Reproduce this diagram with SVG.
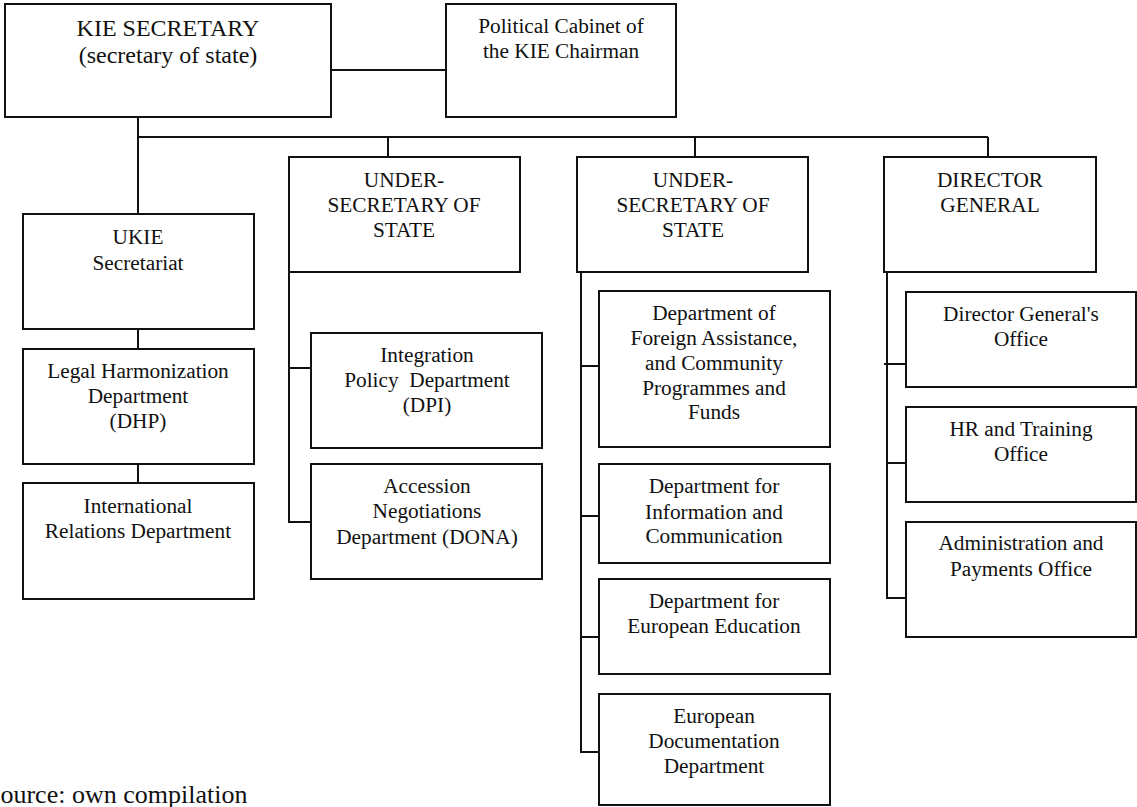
<svg xmlns="http://www.w3.org/2000/svg" width="1137" height="807" viewBox="0 0 1137 807">
<style>
.box{fill:#fff;stroke:#111;stroke-width:2}
.t{font-family:'Liberation Serif','Times New Roman',serif;font-size:21.3px;fill:#111;text-anchor:middle}
.big{font-size:24px}
.src{font-family:'Liberation Serif','Times New Roman',serif;font-size:26px;fill:#111}
.c{fill:none;stroke:#111;stroke-width:2}
</style>
<rect width="1137" height="807" fill="#fff"/>
<g id="connectors">
<path class="c" d="M331,70 H446"/>
<path class="c" d="M138,117 V214"/>
<path class="c" d="M138,137 H988"/>
<path class="c" d="M388,137 V160"/>
<path class="c" d="M695,137 V160"/>
<path class="c" d="M988,137 V160"/>
<path class="c" d="M138,329 V349"/>
<path class="c" d="M138,464 V483"/>
<path class="c" d="M289,272 V522 H311 M289,368 H311"/>
<path class="c" d="M581,272 V752 H599 M581,366 H599 M581,516 H599 M581,637 H599"/>
<path class="c" d="M887,272 V598 H906 M884,364 H906 M887,463 H906"/>
</g>
<g id="kie"><rect class="box" x="5" y="4" width="326" height="113"/>
<text class="t big" x="168" y="36">KIE SECRETARY</text><text class="t big" x="168" y="63">(secretary of state)</text></g>
<g id="political"><rect class="box" x="446" y="4" width="230" height="113"/>
<text class="t" x="561" y="33">Political Cabinet of</text><text class="t" x="561" y="58">the KIE Chairman</text></g>
<g id="ukie"><rect class="box" x="23" y="214" width="231" height="115"/>
<text class="t" x="138" y="244">UKIE</text><text class="t" x="138" y="270">Secretariat</text></g>
<g id="legal"><rect class="box" x="23" y="349" width="231" height="115"/>
<text class="t" x="138" y="378">Legal Harmonization</text><text class="t" x="138" y="403">Department</text><text class="t" x="138" y="428">(DHP)</text></g>
<g id="intl"><rect class="box" x="23" y="483" width="231" height="116"/>
<text class="t" x="138" y="513">International</text><text class="t" x="138" y="538">Relations Department</text></g>
<g id="us1"><rect class="box" x="289" y="157" width="231" height="115"/>
<text class="t" x="404" y="187">UNDER-</text><text class="t" x="404" y="212">SECRETARY OF</text><text class="t" x="404" y="237">STATE</text></g>
<g id="dpi"><rect class="box" x="311" y="333" width="231" height="115"/>
<text class="t" x="427" y="362">Integration</text><text class="t" x="427" y="387" style="white-space:pre">Policy  Department</text><text class="t" x="427" y="412">(DPI)</text></g>
<g id="dona"><rect class="box" x="311" y="464" width="231" height="115"/>
<text class="t" x="427" y="493">Accession</text><text class="t" x="427" y="518">Negotiations</text><text class="t" x="427" y="544">Department (DONA)</text></g>
<g id="us2"><rect class="box" x="577" y="157" width="231" height="115"/>
<text class="t" x="693" y="187">UNDER-</text><text class="t" x="693" y="212">SECRETARY OF</text><text class="t" x="693" y="237">STATE</text></g>
<g id="foreign"><rect class="box" x="599" y="291" width="231" height="156"/>
<text class="t" x="714" y="320">Department of</text><text class="t" x="714" y="345">Foreign Assistance,</text><text class="t" x="714" y="370">and Community</text><text class="t" x="714" y="395">Programmes and</text><text class="t" x="714" y="419">Funds</text></g>
<g id="info"><rect class="box" x="599" y="464" width="231" height="99"/>
<text class="t" x="714" y="493">Department for</text><text class="t" x="714" y="519">Information and</text><text class="t" x="714" y="543">Communication</text></g>
<g id="edu"><rect class="box" x="599" y="579" width="231" height="95"/>
<text class="t" x="714" y="608">Department for</text><text class="t" x="714" y="633">European Education</text></g>
<g id="doc"><rect class="box" x="599" y="694" width="231" height="111"/>
<text class="t" x="714" y="723">European</text><text class="t" x="714" y="748">Documentation</text><text class="t" x="714" y="773">Department</text></g>
<g id="dg"><rect class="box" x="884" y="157" width="212" height="115"/>
<text class="t" x="990" y="187">DIRECTOR</text><text class="t" x="990" y="212">GENERAL</text></g>
<g id="dgoffice"><rect class="box" x="906" y="292" width="230" height="95"/>
<text class="t" x="1021" y="321">Director General's</text><text class="t" x="1021" y="346">Office</text></g>
<g id="hr"><rect class="box" x="906" y="407" width="230" height="95"/>
<text class="t" x="1021" y="436">HR and Training</text><text class="t" x="1021" y="461">Office</text></g>
<g id="admin"><rect class="box" x="906" y="522" width="230" height="115"/>
<text class="t" x="1021" y="550">Administration and</text><text class="t" x="1021" y="576">Payments Office</text></g>
<text class="src" x="-14" y="803">Source: own compilation</text>
</svg>
